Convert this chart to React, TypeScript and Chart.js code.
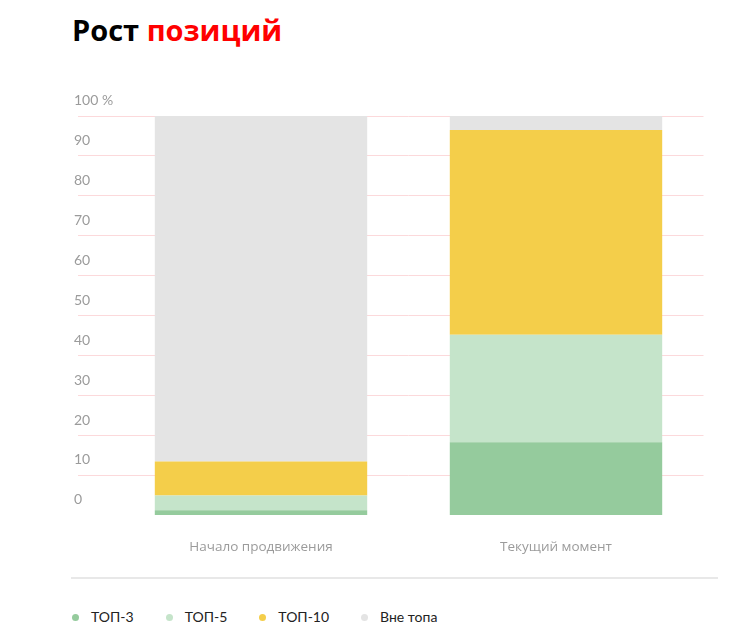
import { useEffect, useRef } from 'react';
import Chart from 'chart.js/auto';

const categories = ['Начало продвижения', 'Текущий момент'];
const seriesNames = ['ТОП-3', 'ТОП-5', 'ТОП-10', 'Вне топа'];
const top3 = [1.3, 18.3];
const top5 = [3.7, 26.9];
const top10 = [8.5, 51.3];
const outside = [86.5, 3.5];
const seriesColors = ['#95cb9d', '#c5e4ca', '#f4ce4a', '#e4e4e4'];

const FONT = 'Lato, "Noto Sans", sans-serif';
const WIDE_FONT = '"Open Sans", Lato, sans-serif';

const App = () => {
  const chartRef = useRef<HTMLCanvasElement>(null);
  const chartInstance = useRef<Chart | null>(null);

  useEffect(() => {
    if (!chartRef.current) return;
    const ctx = chartRef.current.getContext('2d');
    if (!ctx) return;

    if (chartInstance.current) {
      chartInstance.current.destroy();
    }

    const values = [top3, top5, top10, outside];

    chartInstance.current = new Chart(ctx, {
      type: 'bar',
      data: {
        labels: categories,
        datasets: seriesNames.map((name, i) => ({
          label: name,
          data: values[i],
          backgroundColor: seriesColors[i],
          borderWidth: 0,
          barPercentage: 1,
          categoryPercentage: 0.72,
        })),
      },
      options: {
        animation: false,
        responsive: true,
        maintainAspectRatio: false,
        layout: {
          padding: { left: 16, right: 4.5, top: 36, bottom: 0.4 },
        },
        plugins: {
          legend: { display: false },
          title: { display: false },
        },
        scales: {
          x: {
            stacked: true,
            grid: { display: false, drawTicks: false },
            border: { display: false },
            ticks: {
              color: '#9b9b9b',
              padding: 24,
              font: { family: WIDE_FONT, size: 13.5 },
            },
          },
          y: {
            stacked: true,
            min: 0,
            max: 100,
            afterFit: (axis) => {
              axis.width = 39.5;
            },
            border: { display: false },
            grid: {
              color: (c) => (c.tick && c.tick.value === 0 ? 'rgba(0,0,0,0)' : '#fcd9db'),
              tickLength: 35.5,
            },
            ticks: {
              stepSize: 10,
              crossAlign: 'far',
              labelOffset: -15.5,
              color: '#9b9b9b',
              font: { family: FONT, size: 14 },
              callback: (v) => (Number(v) === 100 ? '100 %' : String(v)),
            },
          },
        },
      },
    });

    return () => {
      if (chartInstance.current) {
        chartInstance.current.destroy();
        chartInstance.current = null;
      }
    };
  }, []);

  return (
    <div style={{ position: 'relative', width: 729, height: 617, fontFamily: FONT }}>
      <div
        style={{
          position: 'absolute',
          left: 64,
          top: 4,
          fontFamily: WIDE_FONT,
          fontSize: 29,
          lineHeight: '35px',
          fontWeight: 700,
          color: '#000',
          whiteSpace: 'nowrap',
        }}
      >
        Рост <span style={{ color: '#ff0000' }}>позиций</span>
      </div>
      <div style={{ position: 'absolute', left: 50, top: 72, width: 650, height: 500 }}>
        <canvas ref={chartRef} />
      </div>
      <div
        style={{
          position: 'absolute',
          left: 63,
          top: 569,
          width: 647,
          height: 2,
          background: '#e8e8e8',
        }}
      />
      <div
        style={{
          position: 'absolute',
          left: 64,
          top: 599,
          display: 'flex',
          alignItems: 'center',
          gap: 32,
          fontSize: 14,
          lineHeight: '20px',
          color: '#222',
        }}
      >
        {seriesNames.map((name, i) => (
          <div key={name} style={{ display: 'flex', alignItems: 'center' }}>
            <span
              style={{
                width: 7,
                height: 7,
                borderRadius: '50%',
                background: seriesColors[i],
                marginRight: 12,
                display: 'inline-block',
              }}
            />
            <span>{name}</span>
          </div>
        ))}
      </div>
    </div>
  );
};

export default App;
